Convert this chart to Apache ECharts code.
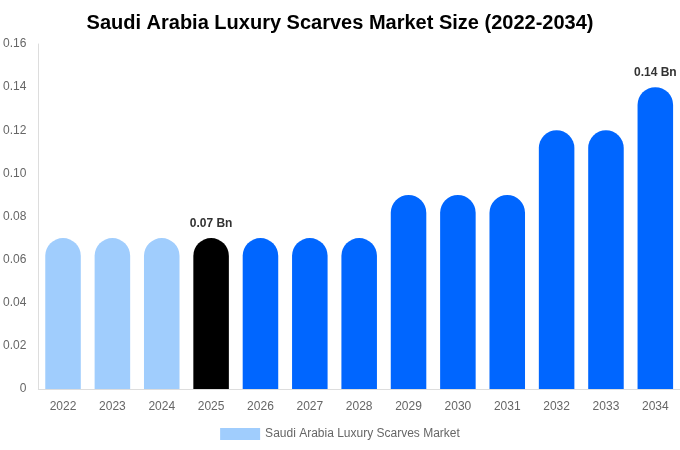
<!DOCTYPE html>
<html><head><meta charset="utf-8">
<script src="https://cdn.jsdelivr.net/npm/echarts@6/dist/echarts.min.js"></script>
<style>html,body{margin:0;padding:0;background:#fff}#c{width:680px;height:450px}</style>
</head><body><div id="c"></div>
<script>
const categories = ['2022','2023','2024','2025','2026','2027','2028','2029','2030','2031','2032','2033','2034'];
const values = [0.07,0.07,0.07,0.07,0.07,0.07,0.07,0.09,0.09,0.09,0.12,0.12,0.14];
const barColors = ['#a0cdfd','#a0cdfd','#a0cdfd','#000000','#0066ff','#0066ff','#0066ff','#0066ff','#0066ff','#0066ff','#0066ff','#0066ff','#0066ff'];
const labelIdx = [3, 12];
const yTicks = [0,0.02,0.04,0.06,0.08,0.10,0.12,0.14,0.16];
const chart = echarts.init(document.getElementById('c'));
chart.setOption({
  animation:false,
  title:{text:'Saudi Arabia Luxury Scarves Market Size (2022-2034)',left:'center',top:8,textStyle:{fontFamily:'Liberation Sans, Arial',fontSize:20,fontWeight:'bold',color:'#000'}},
  legend:{bottom:5,left:'center',icon:'rect',itemWidth:40,itemHeight:12,textStyle:{fontFamily:'Liberation Sans, Arial',fontSize:12,color:'#666'},data:['Saudi Arabia Luxury Scarves Market']},
  grid:{left:37,right:0,top:44,bottom:61},
  xAxis:{type:'category',data:categories,axisTick:{show:false},axisLine:{lineStyle:{color:'#ddd'}},axisLabel:{color:'#666',fontFamily:'Liberation Sans, Arial',fontSize:12,margin:12}},
  yAxis:{type:'value',min:0,max:0.16,interval:0.02,splitLine:{show:false},axisLine:{show:true,lineStyle:{color:'#ddd'}},
    axisLabel:{color:'#666',fontFamily:'Liberation Sans, Arial',fontSize:12,margin:12,formatter:v=>v===0?'0':v.toFixed(2)}},
  series:[{name:'Saudi Arabia Luxury Scarves Market',type:'bar',barWidth:'72%',
    itemStyle:{color:'#a0cdfd',borderRadius:[18,18,0,0]},
    data:values.map((v,i)=>({value:v,itemStyle:{color:barColors[i]},
      label:{show:labelIdx.includes(i),position:'top',distance:8,formatter:p=>p.value.toFixed(2)+' Bn',fontFamily:'Liberation Sans, Arial',fontSize:12,fontWeight:'bold',color:'#333'}}))}]
});
</script></body></html>
